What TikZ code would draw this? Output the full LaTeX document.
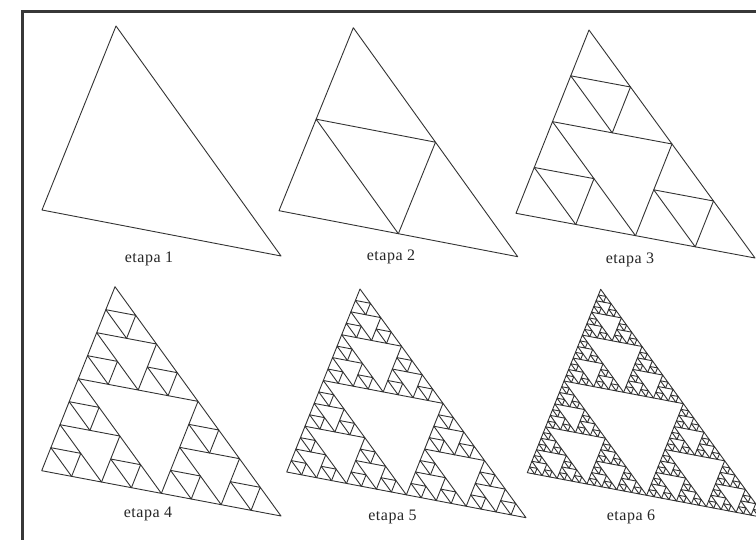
\documentclass[tikz,border=0pt]{standalone}
\usepackage{fontspec}
\setmainfont{Liberation Serif}
\tikzset{
  tri/.style={draw=black!80, line width=0.9pt, line join=round},
  frame/.style={draw=black!78, line width=2.6pt},
  lab/.style={anchor=base, inner sep=0pt, font=\fontsize{16}{18}\selectfont\addfontfeature{LetterSpace=3}, text=black!85}
}
% recursive Sierpinski: #1 level, (#2,#3) (#4,#5) (#6,#7) corners
\def\sierp#1#2#3#4#5#6#7{%
  \ifnum#1=0\relax
    \draw[tri] (#2,#3) -- (#4,#5) -- (#6,#7) -- cycle;
  \else
    \begingroup
    \pgfmathsetmacro\abx{(#2+#4)/2}\pgfmathsetmacro\aby{(#3+#5)/2}%
    \pgfmathsetmacro\acx{(#2+#6)/2}\pgfmathsetmacro\acy{(#3+#7)/2}%
    \pgfmathsetmacro\bcx{(#4+#6)/2}\pgfmathsetmacro\bcy{(#5+#7)/2}%
    \pgfmathtruncatemacro\lv{#1-1}%
    \edef\next{%
      \noexpand\sierp{\lv}{#2}{#3}{\abx}{\aby}{\acx}{\acy}%
      \noexpand\sierp{\lv}{\abx}{\aby}{#4}{#5}{\bcx}{\bcy}%
      \noexpand\sierp{\lv}{\acx}{\acy}{\bcx}{\bcy}{#6}{#7}}%
    \expandafter\endgroup\next
  \fi}
\begin{document}
\begin{tikzpicture}[x=1pt,y=-1pt]
\useasboundingbox (0,0) rectangle (756,540);
\fill[white] (0,0) rectangle (756,540);
\clip (0,0) rectangle (756,540);
\draw[frame] (22.5,11.5) rectangle (820,600);
% top row
\sierp{0}{116}{26}{42}{210}{281}{256}
\sierp{1}{353.3}{27.7}{279}{210.7}{517.7}{256.7}
\sierp{2}{589}{30}{516}{213.3}{755}{258}
% bottom row
\sierp{3}{115}{286.7}{41.7}{470.7}{281}{516}
\sierp{4}{360}{289}{286.7}{472}{526}{517.7}
\sierp{5}{600.7}{289.3}{527.3}{472.7}{766}{518}
\node[lab] (l1) at (149,263) {etapa 1};
\node[lab] (l2) at (391,261) {etapa 2};
\node[lab] (l3) at (630,264) {etapa 3};
\node[lab] (l4) at (148,517) {etapa 4};
\node[lab] (l5) at (392.5,520) {etapa 5};
\node[lab] (l6) at (631,520) {etapa 6};
\end{tikzpicture}
\end{document}
